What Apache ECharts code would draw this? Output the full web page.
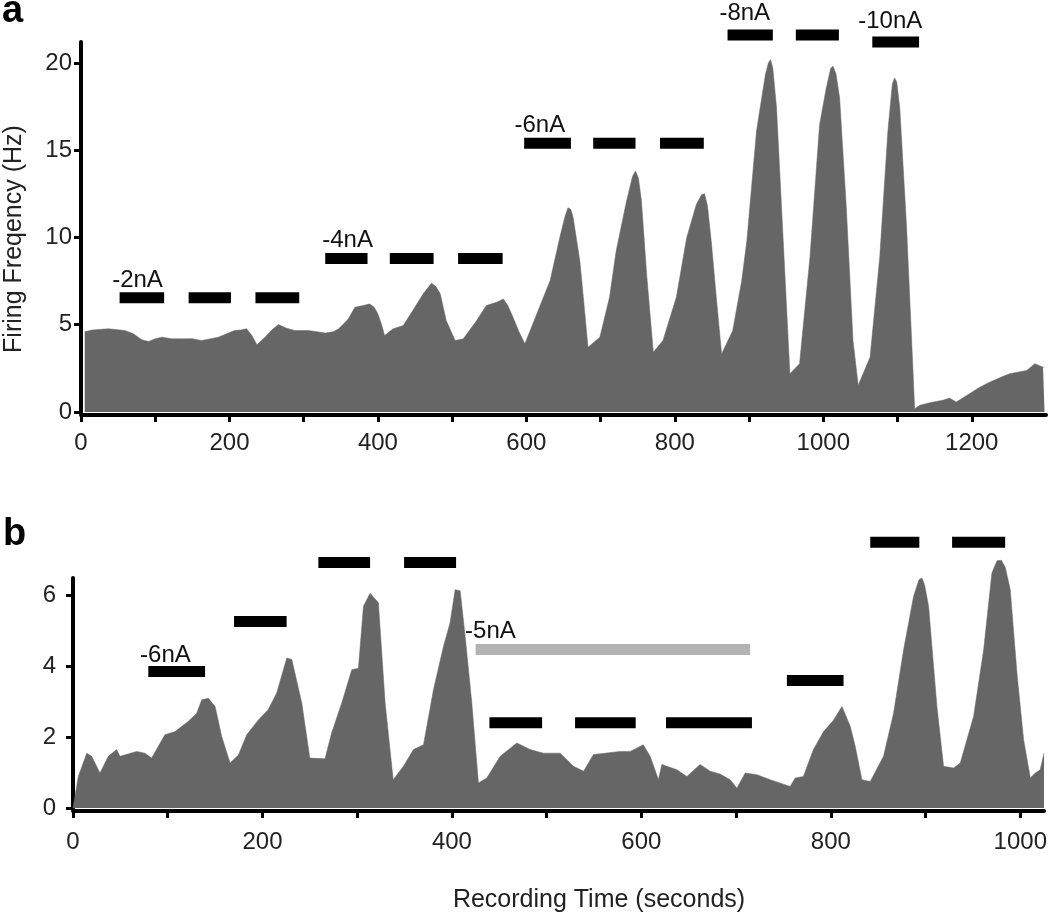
<!DOCTYPE html>
<html>
<head>
<meta charset="utf-8">
<script src="https://cdn.jsdelivr.net/npm/echarts@6/dist/echarts.min.js"></script>
<style>html,body{margin:0;padding:0;background:#fff}#c{width:1050px;height:915px}</style>
</head>
<body>
<div id="c"></div>
<script>
// ---- Panel a data: [time (s), firing frequency (Hz)] ----
const topSeries = [[5,4.6],[15,4.7],[37,4.77],[59,4.67],[70,4.5],[82,4.14],[91,4.04],[100,4.2],[109,4.29],[122,4.2],[136,4.19],[150,4.2],[162,4.1],[175,4.2],[185,4.29],[197,4.5],[207,4.67],[215,4.7],[223,4.77],[230,4.4],[237,3.85],[248,4.29],[257,4.7],[266,5.01],[277,4.8],[288,4.67],[306,4.67],[318,4.6],[329,4.52],[340,4.6],[347,4.77],[355,5.1],[360,5.33],[369,6.0],[380,6.1],[389,6.19],[395,6.0],[400,5.62],[405,5.0],[409,4.38],[420,4.76],[434,4.95],[447,5.81],[461,6.77],[472,7.37],[478,7.2],[484,6.77],[492,5.24],[504,4.1],[515,4.19],[533,5.24],[546,6.1],[560,6.29],[569,6.48],[575,6.1],[582,5.43],[590,4.6],[598,3.91],[614,5.62],[632,7.53],[645,10.0],[652,11.2],[656,11.71],[660,11.6],[663,11.14],[672,8.67],[678,6.0],[683,3.71],[699,4.29],[712,6.57],[721,9.24],[735,12.1],[743,13.5],[747,13.81],[751,13.4],[755,12.1],[762,7.9],[771,3.43],[784,4.1],[802,6.57],[816,10.0],[829,11.9],[836,12.45],[840,12.51],[844,11.8],[849,9.81],[856,6.5],[863,3.33],[878,4.67],[890,7.5],[897,9.81],[910,16.1],[922,19.34],[926,20.0],[929,20.19],[932,19.7],[937,17.43],[946,9.81],[955,2.19],[968,2.77],[982,8.86],[995,16.48],[1004,18.57],[1010,19.7],[1013,19.81],[1017,19.4],[1022,18.0],[1031,11.71],[1040,4.1],[1047,1.53],[1063,3.14],[1076,8.86],[1087,16.1],[1093,18.8],[1096,19.14],[1099,18.9],[1103,17.43],[1112,10.76],[1121,2.19],[1123,0.19],[1130,0.38],[1145,0.55],[1161,0.67],[1170,0.8],[1179,0.57],[1197,1.05],[1210,1.4],[1224,1.71],[1240,2.0],[1251,2.19],[1274,2.38],[1285,2.77],[1296,2.57],[1298,2.57]];

// stimulus bars panel a: [start, end, level]
const topBars = [[52,112,6.55],[145,202,6.55],[235,294,6.55],[329,386,8.8],[416,475,8.8],[508,568,8.8],[597,660,15.4],[690,747,15.4],[780,839,15.4],[871,932,21.6],[963,1021,21.6],[1066,1129,21.2]];
const topLabelText = ['-2nA','-4nA','-6nA','-8nA','-10nA'];
const topLabelPos = [[42,7.55],[325,9.85],[584,16.4],[860,22.85],[1047,22.4]];

// ---- Panel b data ----
const botSeries = [[0,0],[5.6,0.89],[14.5,1.55],[19.7,1.46],[28.5,0.99],[37.3,1.46],[46,1.65],[49.6,1.46],[67.3,1.6],[76,1.55],[83,1.41],[97,2.07],[107.7,2.16],[121.8,2.45],[130.6,2.68],[135.9,3.06],[142.9,3.1],[150,2.87],[157,2.02],[165.8,1.27],[174.6,1.5],[183.4,2.07],[195.7,2.49],[206,2.78],[215,3.25],[225.7,4.24],[231,4.2],[241.5,2.97],[250,1.41],[266,1.39],[273,2.12],[283.7,2.97],[294.3,3.91],[301.3,3.95],[306.6,5.7],[313.6,6.07],[322.4,5.8],[329.5,2.97],[338,0.8],[348.8,1.18],[359.4,1.65],[370,1.79],[380.5,3.34],[391,4.56],[398,5.23],[403.4,6.17],[408.7,6.14],[414,4.85],[421,2.97],[428,0.71],[436.8,0.85],[451,1.46],[468.5,1.84],[482.6,1.65],[496.6,1.55],[514.3,1.55],[528.3,1.18],[539,1.04],[549.4,1.51],[577.6,1.6],[588.2,1.6],[602,1.79],[609.3,1.46],[618,0.8],[621.6,1.23],[637.5,1.08],[648,0.89],[662,1.23],[672.6,1.04],[683,0.96],[693.8,0.8],[700.8,0.56],[709.6,0.99],[722,0.94],[736,0.8],[757,0.61],[762.4,0.85],[771,0.89],[781.6,1.65],[792.3,2.16],[803,2.49],[811.7,2.87],[820.5,2.31],[825.8,1.74],[832.8,0.8],[841.6,0.75],[855.6,1.46],[866.2,2.68],[876.8,4.47],[887.3,5.98],[893,6.45],[896.2,6.5],[899,6.3],[903.2,5.7],[912,2.87],[919,1.18],[929.6,1.13],[936.6,1.27],[950.7,2.59],[961.3,4.47],[970,6.64],[975.4,6.99],[980,7.0],[984.2,6.8],[989.4,6.17],[996.5,3.8],[1003.5,1.93],[1010.6,0.85],[1015.8,0.99],[1021,1.08],[1025,1.55]];

const botBars = [[79.5,139.4,3.86],[170,225.5,5.27],[259,313.6,6.94],[349.5,404.4,6.94],[439.6,495.2,2.41],[530,594,2.41],[626,716.7,2.41],[753.6,813.4,3.6],[841.6,893.4,7.51],[928,984,7.51]];
const botGrayBars = [[425,714.8,4.48]];
const botLabelText = ['-6nA','-5nA'];
const botLabelPos = [[70.8,4.3],[413.9,5.0]];

const topXTicks = [0,100,200,300,400,500,600,700,800,900,1000,1100,1200];
const topXLabels = [0,200,400,600,800,1000,1200];
const topYTicks = [0,5,10,15,20];
const botXTicks = [0,100,200,300,400,500,600,700,800,900,1000];
const botXLabels = [0,200,400,600,800,1000];
const botYTicks = [0,2,4,6];

const FONT = '"Liberation Sans", Arial, Helvetica, sans-serif';
const AREA = '#666666';

function barSeries(data, xi, yi, color) {
  return {
    type: 'custom', xAxisIndex: xi, yAxisIndex: yi, clip: false, silent: true, z: 5,
    data: data,
    encode: {x: [0, 1], y: 2},
    renderItem: function (params, api) {
      const p0 = api.coord([api.value(0), api.value(2)]);
      const p1 = api.coord([api.value(1), api.value(2)]);
      return {type: 'rect', shape: {x: p0[0], y: p0[1] - 5.5, width: p1[0] - p0[0], height: 11}, style: {fill: color}};
    }
  };
}
function labelSeries(pos, texts, xi, yi) {
  return {
    type: 'custom', xAxisIndex: xi, yAxisIndex: yi, clip: false, silent: true, z: 6,
    data: pos,
    encode: {x: 0, y: 1},
    renderItem: function (params, api) {
      const p = api.coord([api.value(0), api.value(1)]);
      return {type: 'text', x: p[0], y: p[1], style: {text: texts[params.dataIndex], fill: '#111', font: '24px ' + FONT, align: 'left', verticalAlign: 'middle'}};
    }
  };
}
function xAxisCfg(gi, max, ticks, labels, margin) {
  return {
    type: 'value', gridIndex: gi, min: 0, max: max, interval: 100, offset: 3,
    axisLine: {show: true, onZero: false, lineStyle: {color: '#000', width: 4}},
    axisTick: {show: true, length: 7, lineStyle: {color: '#000', width: 3}, customValues: ticks},
    axisLabel: {fontSize: 24, color: '#222', fontFamily: FONT, margin: margin, customValues: labels,
      formatter: function (v) { return v % 200 === 0 ? String(v) : ''; }},
    splitLine: {show: false}
  };
}
function yAxisCfg(gi, max, interval, ticks, margin) {
  return {
    type: 'value', gridIndex: gi, min: 0, max: max, interval: interval,
    axisLine: {show: true, onZero: false, lineStyle: {color: '#000', width: 4}},
    axisTick: {show: true, length: 7, lineStyle: {color: '#000', width: 3}, customValues: ticks},
    axisLabel: {fontSize: 24, color: '#222', fontFamily: FONT, margin: margin, customValues: ticks,
      formatter: function (v) { return ticks.indexOf(v) >= 0 ? String(v) : ''; }},
    splitLine: {show: false}
  };
}

const chart = echarts.init(document.getElementById('c'), null, {renderer: 'canvas'});
chart.setOption({
  animation: false,
  backgroundColor: '#fff',
  textStyle: {fontFamily: FONT},
  grid: [
    {left: 81, right: 4, top: 42, bottom: 503},
    {left: 73, right: 6, top: 578, bottom: 107}
  ],
  xAxis: [xAxisCfg(0, 1300, topXTicks, topXLabels, 16), xAxisCfg(1, 1025, botXTicks, botXLabels, 19)],
  yAxis: [yAxisCfg(0, 21.2, 5, topYTicks, 9), yAxisCfg(1, 6.5, 2, botYTicks, 17)],
  series: [
    {type: 'line', xAxisIndex: 0, yAxisIndex: 0, data: topSeries, showSymbol: false, silent: true, clip: false,
      lineStyle: {width: 0.5, color: AREA}, areaStyle: {color: AREA, opacity: 1}, z: 2},
    {type: 'line', xAxisIndex: 1, yAxisIndex: 1, data: botSeries, showSymbol: false, silent: true, clip: false,
      lineStyle: {width: 0.5, color: AREA}, areaStyle: {color: AREA, opacity: 1}, z: 2},
    barSeries(topBars, 0, 0, '#000'),
    labelSeries(topLabelPos, topLabelText, 0, 0),
    barSeries(botGrayBars, 1, 1, '#b3b3b3'),
    barSeries(botBars, 1, 1, '#000'),
    labelSeries(botLabelPos, botLabelText, 1, 1)
  ],
  graphic: [
    {type: 'text', x: 2, y: 12, style: {text: 'a', font: 'bold 38px ' + FONT, fill: '#000', align: 'left', verticalAlign: 'middle'}},
    {type: 'text', x: 3, y: 535, style: {text: 'b', font: 'bold 38px ' + FONT, fill: '#000', align: 'left', verticalAlign: 'middle'}},
    {type: 'text', x: 14, y: 239, rotation: Math.PI / 2, style: {text: 'Firing Freqency (Hz)', font: '25px ' + FONT, fill: '#222', align: 'center', verticalAlign: 'middle'}},
    {type: 'text', x: 599, y: 900, style: {text: 'Recording Time (seconds)', font: '25px ' + FONT, fill: '#222', align: 'center', verticalAlign: 'middle'}}
  ]
});
</script>
</body>
</html>
